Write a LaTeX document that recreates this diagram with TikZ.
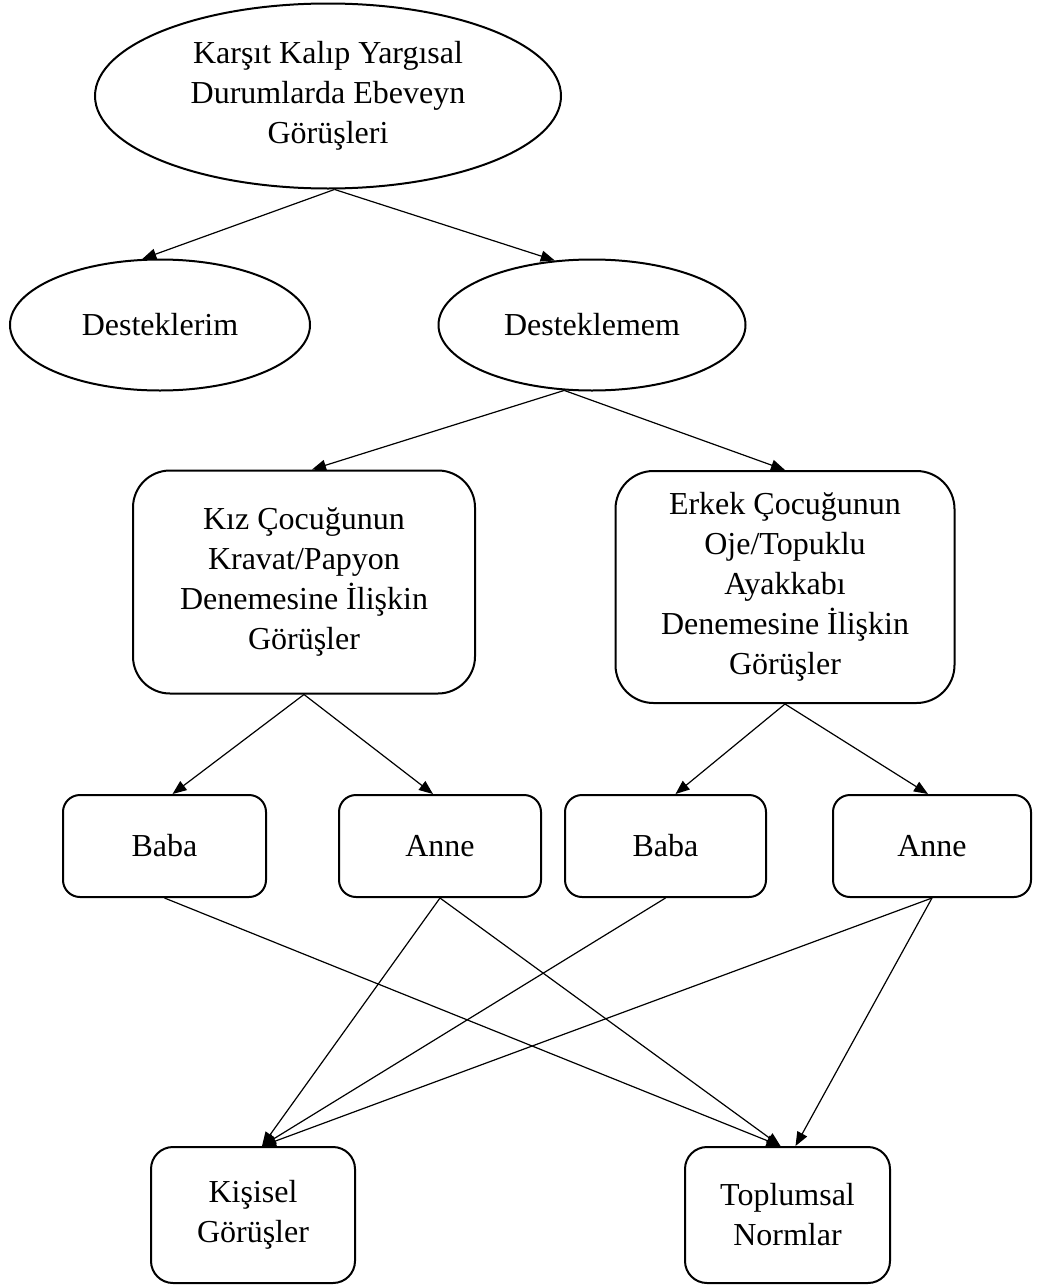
\documentclass[tikz,border=0pt]{standalone}
\usepackage{fontspec}
\setmainfont{Liberation Serif}
\usetikzlibrary{
    shapes.geometric,
    arrows.meta
}

\begin{document}
\begin{tikzpicture}[x=0.5pt, y=-0.5pt,
    every node/.style={font=\fontsize{16}{20}\selectfont, align=center, inner sep=0pt},
    oval/.style={ellipse, draw, line width=1pt},
    roundbox/.style={rectangle, draw, line width=1pt, rounded corners=#1},
    roundbox/.default=8.5pt,
    >={Triangle[length=7pt, width=5.5pt]}]

    \useasboundingbox (0, 0) rectangle (1039, 1285);

    \node[oval, minimum width=233pt, minimum height=92.5pt] (gorus) at (328, 96)
        {Karşıt Kalıp Yargısal\\Durumlarda Ebeveyn\\Görüşleri};
    \node[oval, minimum width=150pt, minimum height=65.5pt] (destek) at (160, 325) {Desteklerim};
    \node[oval, minimum width=153.5pt, minimum height=65.5pt] (destekyok) at (592, 325) {Desteklemem};

    \node[roundbox=18.5pt, minimum width=171pt, minimum height=111.5pt] (kiz) at (304, 582)
        {Kız Çocuğunun\\Kravat/Papyon\\Denemesine İlişkin\\Görüşler};
    \node[roundbox=19pt, minimum width=169.5pt, minimum height=116pt] (erkek) at (785, 587)
        {Erkek Çocuğunun\\Oje/Topuklu\\Ayakkabı\\Denemesine İlişkin\\Görüşler};

    \node[roundbox, minimum width=101.5pt, minimum height=51pt] (babaK) at (164.5, 846) {Baba};
    \node[roundbox, minimum width=101pt, minimum height=51pt] (anneK) at (440, 846) {Anne};
    \node[roundbox, minimum width=100.5pt, minimum height=51pt] (babaE) at (665.5, 846) {Baba};
    \node[roundbox, minimum width=99pt, minimum height=51pt] (anneE) at (932, 846) {Anne};

    \node[roundbox=11pt, minimum width=102pt, minimum height=68pt] (kisisel) at (253, 1215)
        {Kişisel\\Görüşler};
    \node[roundbox=11pt, minimum width=102.5pt, minimum height=68pt] (toplum) at (787.5, 1215)
        {Toplumsal\\Normlar};

    \draw[line width=0.6pt]
    (gorus.274) edge[->] (destek.105)
    (gorus.274) edge[->] (destekyok.120)
    (destekyok.247) edge[->] ([xshift=4pt]kiz.north)
    (destekyok.247) edge[->] (erkek.north)
    (kiz.south) edge[->] ([xshift=4pt]babaK.north)
    (kiz.south) edge[->] ([xshift=-3.5pt]anneK.north)
    (erkek.south) edge[->] ([xshift=5pt]babaE.north)
    (erkek.south) edge[->] ([xshift=-2pt]anneE.north)
    (babaK.south) edge[->] ([xshift=-3.5pt]toplum.north)
    (anneK.south) edge[->] ([xshift=4.5pt]kisisel.north)
    (anneK.south) edge[->] ([xshift=-3.5pt]toplum.north)
    (babaE.south) edge[->] ([xshift=4.5pt]kisisel.north)
    (anneE.south) edge[->] ([xshift=4.5pt]kisisel.north)
    (anneE.south) edge[->] ([xshift=4pt]toplum.north);
\end{tikzpicture}
\end{document}
